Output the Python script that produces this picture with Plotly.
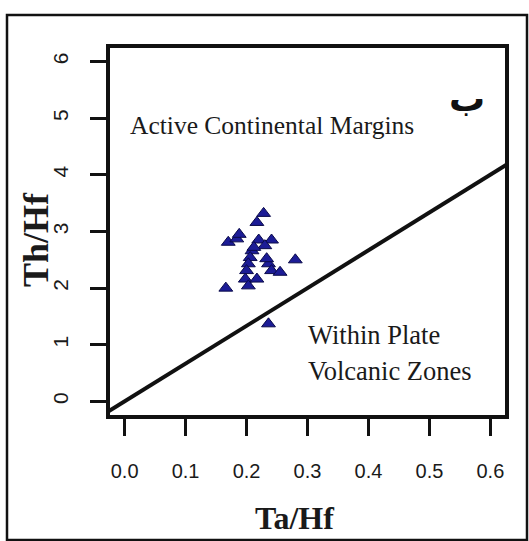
import plotly.graph_objects as go

# Ta/Hf and Th/Hf ratios of the analysed samples
ta_hf = [0.228, 0.217, 0.170, 0.184, 0.188, 0.220, 0.241, 0.230, 0.209, 0.212,
         0.206, 0.203, 0.200, 0.198, 0.203, 0.217, 0.236, 0.233, 0.241, 0.255,
         0.280, 0.166, 0.236]
th_hf = [3.32, 3.16, 2.81, 2.87, 2.95, 2.85, 2.85, 2.75, 2.66, 2.72,
         2.54, 2.43, 2.31, 2.16, 2.04, 2.16, 2.43, 2.52, 2.31, 2.28,
         2.50, 2.00, 1.37]

# Boundary between the two tectonic fields (Th/Hf = slope * Ta/Hf)
boundary_x = [-0.1, 0.8]
boundary_slope = 6.67

x_ticks = [0.0, 0.1, 0.2, 0.3, 0.4, 0.5, 0.6]
x_tick_text = ["0.0", "0.1", "0.2", "0.3", "0.4", "0.5", "0.6"]
y_ticks = [0, 1, 2, 3, 4, 5, 6]

fig = go.Figure()

fig.add_trace(go.Scatter(
    x=boundary_x,
    y=[boundary_slope * v for v in boundary_x],
    mode="lines",
    line=dict(color="#111111", width=4),
    hoverinfo="skip",
    showlegend=False,
))

fig.add_trace(go.Scatter(
    x=ta_hf, y=th_hf,
    mode="markers",
    marker=dict(symbol="triangle-up", size=12, color="#1c1c96",
                line=dict(color="#0a0a4a", width=1)),
    showlegend=False,
))

serif = "Liberation Serif, Times New Roman, serif"
sans = "Liberation Sans, Arial, sans-serif"

fig.update_layout(
    width=529, height=541,
    margin=dict(l=110, r=24, t=48, b=126),
    paper_bgcolor="white", plot_bgcolor="white",
    xaxis=dict(
        range=[-0.024, 0.624], tickvals=x_ticks, ticktext=x_tick_text,
        showgrid=False, zeroline=False,
        showline=True, linecolor="#111111", linewidth=3.5, mirror=True,
        ticks="outside", ticklen=17, tickwidth=2.5, tickcolor="#111111",
        tickfont=dict(family=sans, size=20, color="#1a1a1a"),
        ticklabelstandoff=18,
    ),
    yaxis=dict(
        range=[-0.24, 6.24], tickvals=y_ticks,
        showgrid=False, zeroline=False,
        showline=True, linecolor="#111111", linewidth=3.5, mirror=True,
        ticks="outside", ticklen=16, tickwidth=2.5, tickcolor="#111111",
        tickfont=dict(family=sans, size=21, color="#1a1a1a"),
        tickangle=-90, ticklabelstandoff=14,
    ),
    annotations=[
        dict(text="Active Continental Margins", x=0.006, y=4.88, xref="x", yref="y",
             xanchor="left", yanchor="middle", showarrow=False,
             font=dict(family=serif, size=25.5, color="#1a1a1a")),
        dict(text="Within Plate", x=0.297, y=1.17, xref="x", yref="y",
             xanchor="left", yanchor="middle", showarrow=False,
             font=dict(family=serif, size=26.5, color="#1a1a1a")),
        dict(text="Volcanic Zones", x=0.297, y=0.53, xref="x", yref="y",
             xanchor="left", yanchor="middle", showarrow=False,
             font=dict(family=serif, size=26.5, color="#1a1a1a")),
        dict(text="<b>ب</b>", x=0.562, y=5.35, xref="x", yref="y",
             xanchor="center", yanchor="middle", showarrow=False,
             font=dict(family="DejaVu Sans", size=36, color="#111111")),
        dict(text="<b>Ta/Hf</b>", x=(294 - 110) / 395, y=(415 - 517.5) / 367,
             xref="paper", yref="paper", xanchor="center", yanchor="middle",
             showarrow=False, font=dict(family=serif, size=32, color="#1a1a1a")),
        dict(text="<b>Th/Hf</b>", x=(36 - 110) / 395, y=(415 - 240) / 367,
             xref="paper", yref="paper", xanchor="center", yanchor="middle",
             textangle=-90, showarrow=False,
             font=dict(family=serif, size=36, color="#1a1a1a")),
    ],
    shapes=[
        dict(type="rect", xref="paper", yref="paper",
             x0=(7 - 110) / 395, x1=(527 - 110) / 395,
             y0=(415 - 540) / 367, y1=(415 - 15) / 367,
             line=dict(color="#111111", width=2.5), layer="below"),
    ],
)

fig.write_html("out.html")
